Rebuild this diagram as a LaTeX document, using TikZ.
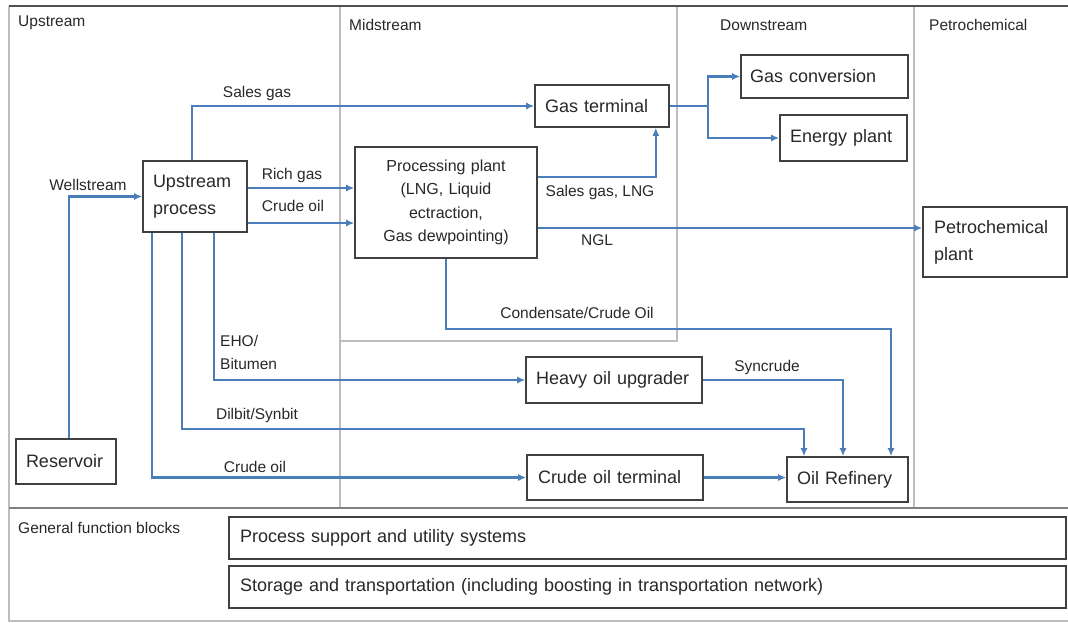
\documentclass[tikz,border=0pt]{standalone}
\usepackage{fontspec}
\setmainfont{Liberation Sans}
\usetikzlibrary{arrows.meta}
\definecolor{flowblue}{RGB}{74,126,187}
\definecolor{boxgray}{RGB}{64,64,64}
\definecolor{txt}{RGB}{40,40,40}
\definecolor{divgray}{RGB}{190,190,190}
\definecolor{framegray}{RGB}{80,80,80}

\begin{document}
\begin{tikzpicture}[x=1pt,y=-1pt,
  box/.style={draw=boxgray, line width=1.6pt, inner xsep=10pt, inner ysep=0pt,
    align=left, text=txt, font=\fontsize{18}{27}\selectfont, fill=white},
  flow/.style={draw=flowblue, line width=2.2pt, -{Latex[length=8pt,width=7pt]}},
  pipe/.style={draw=flowblue, line width=2.2pt},
  lbl/.style={text=txt, font=\fontsize{15.5}{23}\selectfont, inner sep=0pt},
  region/.style={text=txt, font=\fontsize{15.5}{19}\selectfont, inner sep=0pt, anchor=west},
  divider/.style={draw=divgray, line width=1.2pt},
]
\useasboundingbox (0,0) rectangle (1068,622);

% value-chain columns and frame
\draw[divider] (340,6) -- (340,508);
\draw[divider] (340,341) -- (677,341) -- (677,6);
\draw[divider] (914,6) -- (914,508);
\draw[divider] (9,6) -- (9,621) -- (1068,621);
\draw[draw=gray, line width=2pt] (9,508) -- (1068,508);
\draw[draw=framegray, line width=2.5pt] (9,6) -- (1068,6);

% column headings
\node[region] (lup) at (18,23) {Upstream};
\node[region] (lmid) at (349,25) {Midstream};
\node[region] (ldown) at (720,25) {Downstream};
\node[region] (lpet) at (929,25) {Petrochemical};
\node[region] (lgen) at (18,528) {General function blocks};

% process blocks
\node[box, text width=84pt, minimum height=71pt] (up) at (195,196.5) {Upstream\\process};
\node[box, text width=114pt, minimum height=42pt] (gt) at (602,106) {Gas terminal};
\node[box, text width=162pt, minimum height=111pt, align=center,
  font=\fontsize{16}{23.5}\selectfont] (pp) at (446,202.5)
  {Processing plant\\(LNG, Liquid\\ectraction,\\Gas dewpointing)};
\node[box, text width=149pt, minimum height=43pt, inner xsep=9pt] (gc) at (824.5,76.5) {Gas conversion};
\node[box, text width=107pt, minimum height=46pt] (ep) at (843.5,138) {Energy plant};
\node[box, text width=122pt, minimum height=70pt, inner xsep=11pt] (pc) at (995,242) {Petrochemical\\plant};
\node[box, text width=156pt, minimum height=46pt] (hu) at (614,380) {Heavy oil upgrader};
\node[box, text width=154pt, minimum height=45pt, inner xsep=11pt] (ct) at (615,477.5) {Crude oil terminal};
\node[box, text width=101pt, minimum height=45pt] (ref) at (847.5,479.5) {Oil Refinery};
\node[box, text width=80pt, minimum height=45pt] (res) at (66,461.5) {Reservoir};
\node[box, text width=815pt, minimum height=42pt, inner xsep=11pt] (psu) at (647.5,538)
  {Process support and utility systems};
\node[box, text width=815pt, minimum height=42pt, inner xsep=11pt] (stt) at (647.5,587)
  {Storage and transportation (including boosting in transportation network)};

% bend points
\coordinate (split) at (708,106);
\coordinate (cond) at (891,329);
\coordinate (dil) at (804,429);

% flows
\draw[flow] ([xshift=3pt]res.north) |- (up.west);
\draw[flow] ([xshift=-3pt]up.north) |- (gt.west);
\draw[flow] ([yshift=8.5pt]up.east) -- ([yshift=8.5pt]up.east -| pp.west);
\draw[flow] ([yshift=-26.5pt]up.east) -- ([yshift=-26.5pt]up.east -| pp.west);
\draw[flow] ([yshift=25.5pt]pp.east) -| ([xshift=-14pt]gt.south east);
\draw[flow] ([yshift=-25.5pt]pp.east) -- ([yshift=-25.5pt]pp.east -| pc.west);
\draw[pipe] (gt.east) -- (split);
\draw[flow] (split) |- (gc.west);
\draw[flow] (split) |- (ep.west);
\draw[flow] (pp.south) |- (cond) -- (cond |- ref.north);
\draw[flow] ([xshift=19pt]up.south) |- (hu.west);
\draw[flow] ([xshift=-13pt]up.south) |- (dil) -- (dil |- ref.north);
\draw[flow] ([xshift=-43pt]up.south) |- (ct.west);
\draw[flow] (hu.east) -| ([xshift=-4.5pt]ref.north);
\draw[flow] (ct.east) -- (ct.east -| ref.west);

% flow labels
\node[lbl] (tsg) at (257,93) {Sales gas};
\node[lbl] (tws) at (88,185) {Wellstream};
\node[lbl] (trg) at (292,175) {Rich gas};
\node[lbl] (tco1) at (293,206) {Crude oil};
\node[lbl] (tsl) at (600,192) {Sales gas, LNG};
\node[lbl] (tngl) at (597,240) {NGL};
\node[lbl] (tcond) at (577,313) {Condensate/Crude Oil};
\node[lbl, anchor=west, align=left] (teho) at (220,352) {EHO/\\Bitumen};
\node[lbl] (tdil) at (257,415) {Dilbit/Synbit};
\node[lbl] (tco2) at (255,467) {Crude oil};
\node[lbl] (tsyn) at (767,367) {Syncrude};
\end{tikzpicture}
\end{document}
